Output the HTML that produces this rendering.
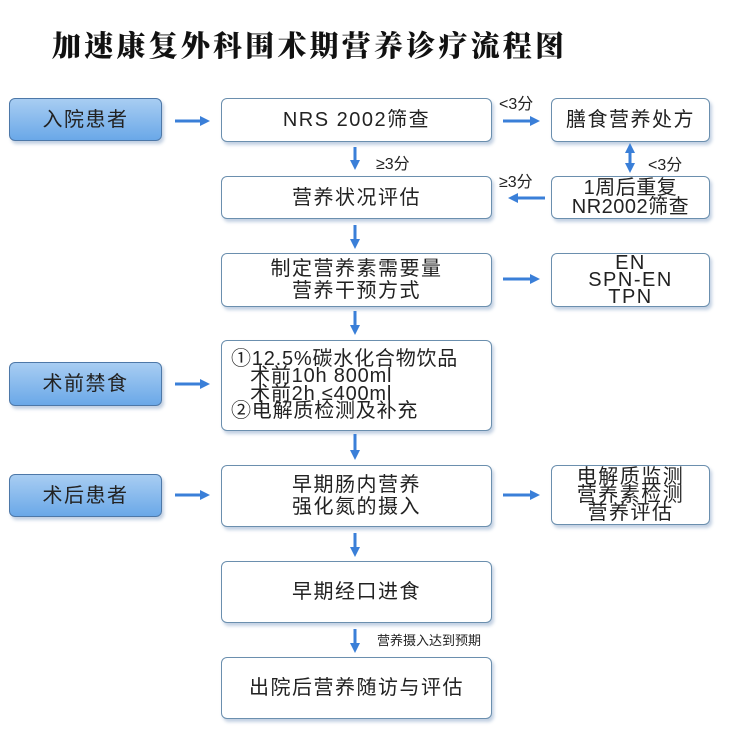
<!DOCTYPE html>
<html><head><meta charset="utf-8"><style>
body{margin:0;width:740px;height:739px;background:#fff;position:relative;overflow:hidden;font-family:"Liberation Sans","Noto Sans CJK SC",sans-serif;color:#222}
.t{position:absolute;left:52px;top:24px;font-family:"Noto Serif CJK SC",serif;font-weight:900;font-size:29px;letter-spacing:3.2px;color:#111}
.b{position:absolute;box-sizing:border-box;border:1.5px solid #6b8fae;border-radius:6px;background:#fff;box-shadow:2px 3px 3px rgba(120,150,190,.45);display:flex;align-items:center;justify-content:center;text-align:center;font-size:20px;line-height:20px;letter-spacing:1.5px}
.blue{background:linear-gradient(#a8cdf2,#6aa8e8);border-color:#4d78a8}
.l{position:absolute;font-size:16px}
svg{position:absolute;left:0;top:0}
</style></head><body>
<div class="t">加速康复外科围术期营养诊疗流程图</div>

<div class="b blue" style="left:9px;top:98px;width:153px;height:43px">入院患者</div>
<div class="b blue" style="left:9px;top:362px;width:153px;height:44px">术前禁食</div>
<div class="b blue" style="left:9px;top:474px;width:153px;height:43px">术后患者</div>

<div class="b" style="left:221px;top:98px;width:271px;height:44px">NRS 2002筛查</div>
<div class="b" style="left:221px;top:176px;width:271px;height:43px">营养状况评估</div>
<div class="b" style="left:221px;top:253px;width:271px;height:54px;line-height:22px">制定营养素需要量<br>营养干预方式</div>
<div class="b" style="left:221px;top:340px;width:271px;height:91px;justify-content:flex-start;text-align:left;padding-left:9px;line-height:17.5px;letter-spacing:0.8px">①12.5%碳水化合物饮品<br>&nbsp;&nbsp;&nbsp;术前10h 800ml<br>&nbsp;&nbsp;&nbsp;术前2h ≤400ml<br>②电解质检测及补充</div>
<div class="b" style="left:221px;top:465px;width:271px;height:62px;line-height:22px">早期肠内营养<br>强化氮的摄入</div>
<div class="b" style="left:221px;top:561px;width:271px;height:62px">早期经口进食</div>
<div class="b" style="left:221px;top:657px;width:271px;height:62px">出院后营养随访与评估</div>

<div class="b" style="left:551px;top:98px;width:159px;height:44px">膳食营养处方</div>
<div class="b" style="left:551px;top:176px;width:159px;height:43px;line-height:19px;letter-spacing:0.5px">1周后重复<br>NR2002筛查</div>
<div class="b" style="left:551px;top:253px;width:159px;height:54px;line-height:17px">EN<br>SPN-EN<br>TPN</div>
<div class="b" style="left:551px;top:465px;width:159px;height:60px;line-height:18px">电解质监测<br>营养素检测<br>营养评估</div>

<div class="l" style="left:499px;top:90px">&lt;3分</div>
<div class="l" style="left:376px;top:150px">≥3分</div>
<div class="l" style="left:648px;top:151px">&lt;3分</div>
<div class="l" style="left:499px;top:168px">≥3分</div>
<div class="l" style="left:377px;top:630px;font-size:13px">营养摄入达到预期</div>

<svg width="740" height="739">
<defs><marker id="a" markerWidth="10" markerHeight="10" refX="5" refY="5" orient="auto" markerUnits="userSpaceOnUse"><path d="M0,0 L10,5 L0,10 Z" fill="#3a7fd8"/></marker></defs>
<g stroke="#3a7fd8" stroke-width="3" fill="none" marker-end="url(#a)">
<line x1="175" y1="121" x2="205" y2="121"/>
<line x1="503" y1="121" x2="535" y2="121"/>
<line x1="503" y1="279" x2="535" y2="279"/>
<line x1="503" y1="495" x2="535" y2="495"/>
<line x1="545" y1="198" x2="513" y2="198"/>
<line x1="175" y1="384" x2="205" y2="384"/>
<line x1="175" y1="495" x2="205" y2="495"/>
<line x1="355" y1="147" x2="355" y2="165"/>
<line x1="355" y1="225" x2="355" y2="244"/>
<line x1="355" y1="311" x2="355" y2="330"/>
<line x1="355" y1="434" x2="355" y2="455"/>
<line x1="355" y1="533" x2="355" y2="552"/>
<line x1="355" y1="629" x2="355" y2="648"/>
<line x1="630" y1="155" x2="630" y2="168"/>
<line x1="630" y1="160" x2="630" y2="148"/>
</g>
</svg>
</body></html>
